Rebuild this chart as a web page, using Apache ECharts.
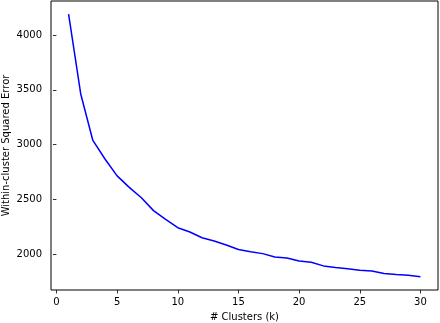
<!DOCTYPE html>
<html>
<head>
<meta charset="utf-8">
<script src="https://cdn.jsdelivr.net/npm/echarts@6/dist/echarts.min.js"></script>
<style>html,body{margin:0;padding:0;background:#fff;}#c{width:440px;height:323px;}</style>
</head>
<body>
<div id="c"></div>
<script>
const clusters = [1,2,3,4,5,6,7,8,9,10,11,12,13,14,15,16,17,18,19,20,21,22,23,24,25,26,27,28,29,30];
const sse = [4190,3462,3038,2869,2715,2610,2515,2398,2318,2242,2203,2151,2121,2085,2043,2024,2006,1975,1966,1939,1927,1894,1879,1867,1854,1848,1824,1815,1809,1794];
const xTicks = [0,5,10,15,20,25,30];
const yTicks = [2000,2500,3000,3500,4000];

const xMin = 1, xMax = 30;
const yLo = Math.min(...sse), yHi = Math.max(...sse);
const xPad = (xMax - xMin) * 0.05, yPad = (yHi - yLo) * 0.05;

const font = 'DejaVu Sans';
const chart = echarts.init(document.getElementById('c'), null, {renderer:'canvas'});
chart.setOption({
  animation: false,
  backgroundColor: '#fff',
  grid: {left: 51, right: 2, top: 1, bottom: 33, containLabel: false, outerBoundsMode: 'none',
         show: true, borderColor: '#000', borderWidth: 1, backgroundColor: 'transparent'},
  xAxis: {
    type: 'value', min: xMin - xPad, max: xMax + xPad,
    name: '# Clusters (k)', nameLocation: 'middle', nameGap: 22, nameMoveOverlap: false,
    nameTextStyle: {fontFamily: font, fontSize: 10, color: '#000'},
    axisLine: {show: false},
    splitLine: {show: false},
    axisTick: {show: true, inside: false, length: 3.5, customValues: xTicks, lineStyle: {color: '#000', width: 0.8}},
    axisLabel: {customValues: xTicks, margin: 7, fontFamily: font, fontSize: 10, color: '#000',
                formatter: v => String(v)}
  },
  yAxis: {
    type: 'value', min: yLo - yPad, max: yHi + yPad,
    name: 'Within-cluster Squared Error', nameLocation: 'middle', nameGap: 40, nameMoveOverlap: false,
    nameTextStyle: {fontFamily: font, fontSize: 10, color: '#000'},
    axisLine: {show: false},
    splitLine: {show: false},
    axisTick: {show: true, inside: false, length: 3.5, customValues: yTicks, lineStyle: {color: '#000', width: 0.8}},
    axisLabel: {customValues: yTicks, margin: 9, fontFamily: font, fontSize: 10, color: '#000',
                formatter: v => String(v)}
  },
  series: [{
    type: 'line',
    data: clusters.map((k, i) => [k, sse[i]]),
    showSymbol: false, symbol: 'none',
    lineStyle: {color: '#0000ff', width: 1.5},
    itemStyle: {color: '#0000ff'}
  }]
});
</script>
</body>
</html>
